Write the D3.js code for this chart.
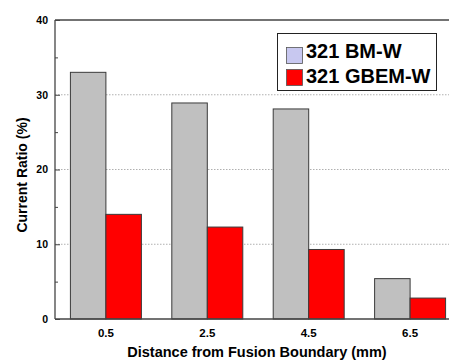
<!DOCTYPE html>
<html><head><meta charset="utf-8">
<script src="https://cdn.jsdelivr.net/npm/d3@7"></script>
<style>body{margin:0;background:#fff}svg{display:block}text{font-family:Arial,"Liberation Sans",sans-serif;font-weight:bold;fill:#000}</style>
</head><body><svg id="c" width="449" height="360"></svg>
<script>
const categories = ["0.5", "2.5", "4.5", "6.5"];
const seriesNames = ["321 BM-W", "321 GBEM-W"];
const bmW = [33.0, 28.9, 28.1, 5.4];
const gbemW = [14.0, 12.3, 9.3, 2.8];
const yTicks = [0, 10, 20, 30, 40];
const yMinor = [5, 15, 25, 35];
const barColors = ["#c0c0c0", "#ff0000"];
const legendColors = ["#c8c8f0", "#ff0000"];

const svg = d3.select("#c");
const L = 55, R = 461, T = 20, B = 319;
const x = d3.scaleBand().domain(categories).range([L, R]).paddingInner(0.3).paddingOuter(0.152);
const xs = d3.scaleBand().domain([0, 1]).range([0, x.bandwidth()]);
const y = d3.scaleLinear().domain([0, 40]).range([B, T]);

// grid
svg.append("g").selectAll("line").data([10, 20, 30]).join("line")
  .attr("x1", L).attr("x2", R).attr("y1", d => y(d)).attr("y2", d => y(d))
  .attr("stroke", "#b0b0b0").attr("stroke-width", 1).attr("stroke-dasharray", "1.5,1.5");

// bars
const series = [bmW, gbemW];
series.forEach((vals, si) => {
  svg.append("g").selectAll("rect").data(vals).join("rect")
    .attr("x", (d, i) => x(categories[i]) + xs(si))
    .attr("width", xs.bandwidth())
    .attr("y", d => y(d)).attr("height", d => B - y(d))
    .attr("fill", barColors[si]).attr("stroke", "#3a3a3a").attr("stroke-width", 1);
});

// frame
svg.append("line").attr("x1", L).attr("x2", R).attr("y1", T).attr("y2", T).attr("stroke", "#444").attr("stroke-width", 1.3);
svg.append("line").attr("x1", L).attr("x2", R).attr("y1", B).attr("y2", B).attr("stroke", "#444").attr("stroke-width", 1.3);
svg.append("line").attr("x1", L).attr("x2", L).attr("y1", T).attr("y2", B).attr("stroke", "#444").attr("stroke-width", 1.3);

// y axis
const yAxis = d3.axisLeft(y).tickValues(yTicks).tickSize(-5).tickPadding(7).tickFormat(d3.format("d"));
const ga = svg.append("g").attr("transform", `translate(${L},0)`).call(yAxis);
ga.select(".domain").remove();
ga.selectAll("line").attr("stroke", "#444");
ga.selectAll("text").style("font-size", "10.5px").style("font-weight", "bold").attr("font-family", null);
const gm = svg.append("g").attr("transform", `translate(${L},0)`).call(d3.axisLeft(y).tickValues(yMinor).tickSize(-3).tickFormat(""));
gm.select(".domain").remove();
gm.selectAll("line").attr("stroke", "#444");

// x axis
const xAxis = d3.axisBottom(x).tickSize(0).tickPadding(9.5);
const gx = svg.append("g").attr("transform", `translate(0,${B})`).call(xAxis);
gx.select(".domain").remove();
gx.selectAll("text").style("font-size", "11.5px").style("font-weight", "bold").attr("font-family", null);

// axis titles
svg.append("text").attr("x", 257).attr("y", 357).attr("text-anchor", "middle").style("font-size", "14.5px").text("Distance from Fusion Boundary (mm)");
svg.append("text").attr("transform", "translate(27,175) rotate(-90)").attr("text-anchor", "middle").style("font-size", "14px").text("Current Ratio (%)");

// legend
const lg = svg.append("g");
lg.append("rect").attr("x", 277.5).attr("y", 33.5).attr("width", 159).attr("height", 57).attr("fill", "#fff").attr("stroke", "#222").attr("stroke-width", 1);
seriesNames.forEach((n, i) => {
  const yy = [47.5, 69.5][i];
  lg.append("rect").attr("x", 286.5).attr("y", yy).attr("width", 16).attr("height", 16).attr("fill", legendColors[i]).attr("stroke", "#555").attr("stroke-width", 0.8);
  lg.append("text").attr("x", 306).attr("y", [57.5, 83][i] ).style("font-size", "20px").text(n);
});
</script></body></html>
